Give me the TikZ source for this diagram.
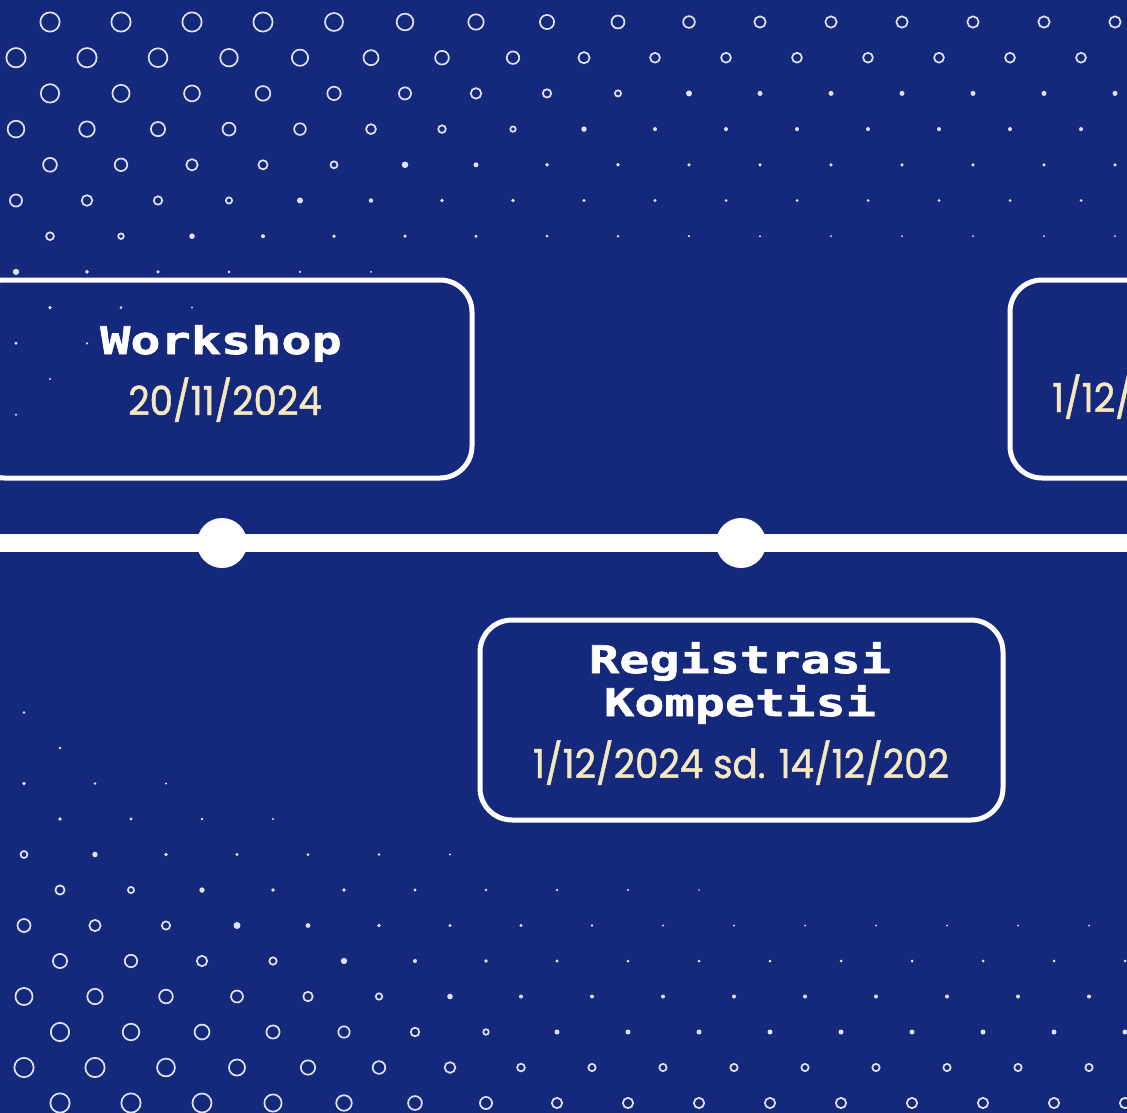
\documentclass[tikz,border=0pt]{standalone}
\usepackage{fontspec}
\newfontfamily\pixfont{DejaVu Sans Mono}[FakeStretch=1.32, BoldFeatures={FakeBold=1.6}]
\newfontfamily\datefont{Poppins}[FakeStretch=0.93, FakeBold=1.2]
\definecolor{bgblue}{RGB}{20,41,124}
\definecolor{dotwhite}{RGB}{222,228,242}
\definecolor{dategold}{RGB}{246,232,190}
\tikzset{
    eventbox/.style={draw=white, line width=5pt, rounded corners=32pt, minimum width=500pt, minimum height=198pt, inner sep=0pt},
    evtitle/.style={font=\pixfont\bfseries\fontsize{38}{40}\selectfont, text=white, inner sep=0pt, anchor=base},
    evdate/.style={font=\datefont\fontsize{40}{42}\selectfont, text=dategold, inner sep=0pt, anchor=base},
    milestone/.style={circle, fill=white, minimum size=50pt, inner sep=0pt},
    timeline/.style={white, line width=18pt},
    dotring/.style={draw=dotwhite, line width=1.7pt},
}
\begin{document}
\begin{tikzpicture}[x=1pt, y=-1pt]
    \useasboundingbox (0,0) rectangle (1127,1113);
    \clip (0,0) rectangle (1127,1113);
    \fill[bgblue] (0,0) rectangle (1127,1113);

    % halftone dots, top band
    \foreach \k in {0,...,12}{
        \foreach \j in {0,...,15}{
            \pgfmathsetmacro\dotx{ifthenelse(mod(\k,2)==0,50,16)+71*\j}
            \pgfmathsetmacro\doty{22+35.7*\k}
            \pgfmathsetmacro\dotu{\dotx/71}
            \pgfmathsetmacro\dotL{\k+0.55*\dotu+0.5*max(0,\k-6)*\dotu}
            \pgfmathsetmacro\dotc{\dotL<2 ? 21 : (\dotL<5.5 ? 21-2.3*(\dotL-2) : (\dotL<7 ? 13-4*(\dotL-5.5) : (\dotL<8 ? 7-3*(\dotL-7) : 4-0.45*(\dotL-8))))}
            \pgfmathsetmacro\dote{{13,11.5,5,4,3.5,3,2,0,0,0,0,0,0}[\k]}
            \pgfmathsetmacro\dotd{max(\dotc,\dote)}
            \ifdim\dotd pt>7pt
                \pgfmathsetmacro\dotr{(\dotd-1.7)/2}
                \draw[dotring] (\dotx,\doty) circle[radius=\dotr pt];
            \else\ifdim\dotd pt>1.8pt
                \pgfmathsetmacro\dotr{\dotd/2}
                \fill[dotwhite] (\dotx,\doty) circle[radius=\dotr pt];
            \fi\fi
        }
    }

    % halftone dots, bottom band
    \foreach \m in {0,...,12}{
        \foreach \j in {0,...,15}{
            \pgfmathsetmacro\dotx{ifthenelse(mod(\m,2)==0,60,24)+71*\j}
            \pgfmathsetmacro\doty{1103-35.5*\m}
            \pgfmathsetmacro\dotu{\dotx/71}
            \pgfmathsetmacro\dotv{0.9*\m}
            \pgfmathsetmacro\dotL{\dotv+0.75*\dotu+0.5*max(0,\dotv-6)*\dotu}
            \pgfmathsetmacro\dotc{\dotL<2 ? 21 : (\dotL<5.5 ? 21-2.3*(\dotL-2) : (\dotL<7 ? 13-4*(\dotL-5.5) : (\dotL<8 ? 7-3*(\dotL-7) : 4-0.45*(\dotL-8))))}
            \pgfmathsetmacro\dote{{12,9,5,4,3,2,0,0,0,0,0,0,0}[\m]}
            \pgfmathsetmacro\dotd{max(\dotc,\dote)}
            \ifdim\dotd pt>7pt
                \pgfmathsetmacro\dotr{(\dotd-1.7)/2}
                \draw[dotring] (\dotx,\doty) circle[radius=\dotr pt];
            \else\ifdim\dotd pt>1.8pt
                \pgfmathsetmacro\dotr{\dotd/2}
                \fill[dotwhite] (\dotx,\doty) circle[radius=\dotr pt];
            \fi\fi
        }
    }

    % timeline
    \coordinate (tl-start) at (-20,543);
    \coordinate (tl-end) at (1150,543);
    \draw[timeline] (tl-start) -- (tl-end);
    \node[milestone] (ms-workshop) at (222,543) {};
    \node[milestone] (ms-registrasi) at (741,543) {};

    % events
    \node[eventbox] (ev-workshop) at (222,379) {};
    \node[evtitle] (ws-title) at (221,354) {Workshop};
    \node[evdate] (ws-date) at (225,415) {20/11/2024};

    \node[eventbox, minimum width=523pt, minimum height=200pt] (ev-registrasi) at (741.5,720) {};
    \node[evtitle] (rg-title1) at (740,673) {Registrasi};
    \node[evtitle] (rg-title2) at (740,716) {Kompetisi};
    \node[evdate] (rg-date) at (741,778) {1/12/2024 sd. 14/12/202};

    \node[eventbox] (ev-next) at (1260,379) {};
    \node[evdate, anchor=base west] (nx-date) at (1052,412) {1/12/};
\end{tikzpicture}
\end{document}
